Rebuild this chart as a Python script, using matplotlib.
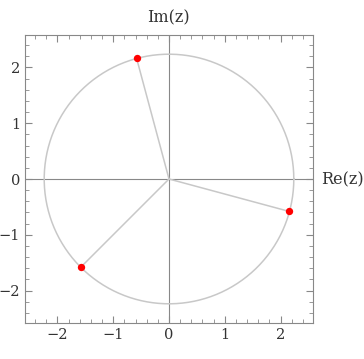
import numpy as np
import matplotlib
matplotlib.use("Agg")
import matplotlib.pyplot as plt
from matplotlib.ticker import MultipleLocator

# roots shown on the plane
re_pts = [2.15, -0.58, -1.58]
im_pts = [-0.58, 2.16, -1.58]
radius = 2.236
lim = 2.58

plt.rcParams.update({"font.family": "DejaVu Serif", "font.size": 10})
fig = plt.figure(figsize=(3.64, 3.59), dpi=100)
ax = fig.add_axes([25 / 364, 36 / 359, 288 / 364, 288 / 359])

t = np.linspace(0, 2 * np.pi, 400)
ax.plot(radius * np.cos(t), radius * np.sin(t), color="#c8c8c8", lw=1.1, zorder=2)
for x, y in zip(re_pts, im_pts):
    ax.plot([0, x], [0, y], color="#c8c8c8", lw=1.1, zorder=2)
ax.axhline(0, color="#888888", lw=0.8, zorder=1)
ax.axvline(0, color="#888888", lw=0.8, zorder=1)
ax.scatter(re_pts, im_pts, s=28, color="#ff0000", zorder=4, linewidths=0)

ax.set_xlim(-lim, lim)
ax.set_ylim(-lim, lim)
ax.xaxis.set_major_locator(MultipleLocator(1))
ax.yaxis.set_major_locator(MultipleLocator(1))
ax.xaxis.set_minor_locator(MultipleLocator(0.2))
ax.yaxis.set_minor_locator(MultipleLocator(0.2))
ax.tick_params(which="both", direction="in", top=True, right=True,
               color="#888888", labelcolor="#333333", labelsize=10.5)
ax.tick_params(which="major", length=5, width=0.8)
ax.tick_params(which="minor", length=3, width=0.6)
ax.tick_params(labeltop=False, labelright=False)
for s in ax.spines.values():
    s.set_color("#888888")
    s.set_linewidth(0.8)

fig.text(168 / 364, 1 - 18 / 359, "Im(z)", ha="center", va="center", fontsize=11.5, color="#333333")
fig.text(342 / 364, 1 - 180 / 359, "Re(z)", ha="center", va="center", fontsize=11.5, color="#333333")

fig.savefig("out.png", dpi=100)
